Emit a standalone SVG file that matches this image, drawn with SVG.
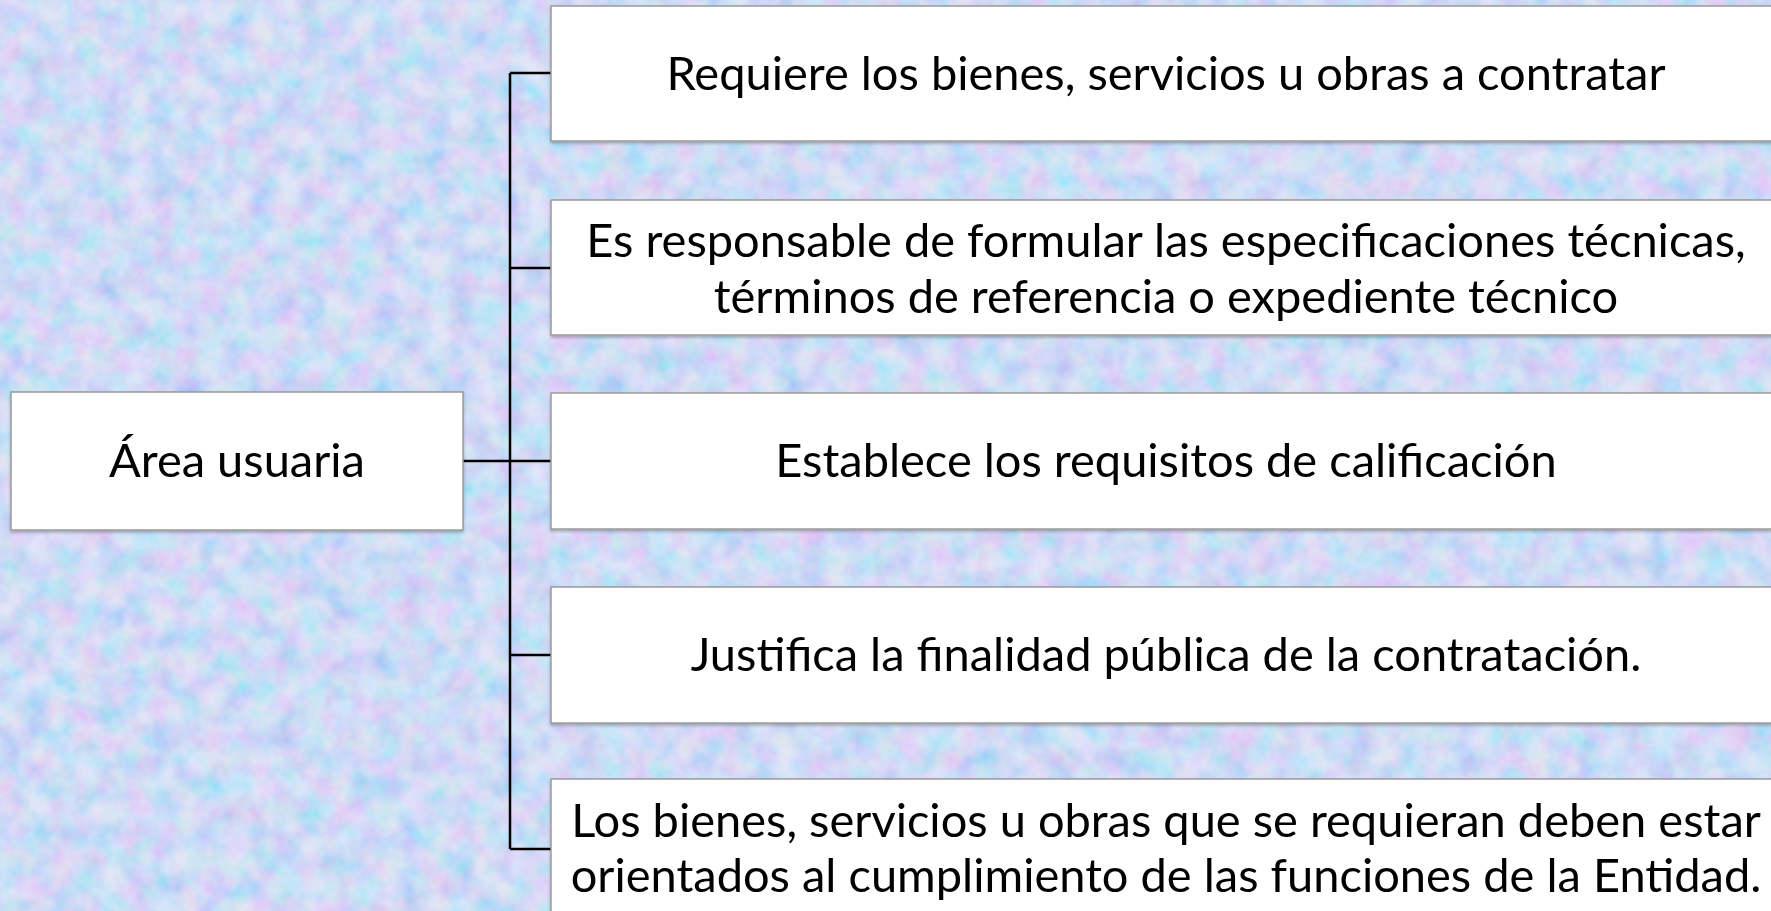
<svg xmlns="http://www.w3.org/2000/svg" width="1771" height="911" viewBox="0 0 1771 911">
<defs>
<style>
.box{fill:#ffffff;stroke:#9a9a9a;stroke-width:1.5}
.t{font-family:Lato,"Open Sans","Liberation Sans",sans-serif;font-size:47px;fill:#000;text-anchor:middle}
.c{stroke:#000;stroke-width:2.5;fill:none}
</style>
<filter id="noise" x="0" y="0" width="100%" height="100%">
<feTurbulence type="fractalNoise" baseFrequency="0.04" numOctaves="3" seed="7" result="n"/>
<feColorMatrix in="n" type="matrix" values="1.3 0 0 0 0.08  0 0.8 0 0 0.44  0 0 0.3 0 0.8  0 0 0 0 0.55"/>
</filter>
<filter id="sh" x="-5%" y="-5%" width="110%" height="120%">
<feDropShadow dx="0" dy="2" stdDeviation="1.5" flood-color="#000" flood-opacity="0.25"/>
</filter>
</defs>
<rect x="0" y="0" width="1771" height="911" fill="#bcc6f1"/>
<rect x="0" y="0" width="1771" height="911" filter="url(#noise)"/>
<g id="connectors">
<path class="c" d="M463 461 H551"/>
<path class="c" d="M510 73 V849"/>
<path class="c" d="M510 73 H551 M510 268 H551 M510 655 H551 M510 849 H551"/>
</g>
<g id="n0" filter="url(#sh)">
<rect class="box" x="11" y="392" width="452" height="138"/>
<text class="t" x="237" y="477">Área usuaria</text>
</g>
<g id="n1" filter="url(#sh)">
<rect class="box" x="551" y="6" width="1232" height="135"/>
<text class="t" x="1166" y="90">Requiere los bienes, servicios u obras a contratar</text>
</g>
<g id="n2" filter="url(#sh)">
<rect class="box" x="551" y="200" width="1232" height="135"/>
<text class="t" x="1166" y="257">Es responsable de formular las especificaciones técnicas,</text>
<text class="t" x="1166" y="313">términos de referencia o expediente técnico</text>
</g>
<g id="n3" filter="url(#sh)">
<rect class="box" x="551" y="393" width="1232" height="136"/>
<text class="t" x="1166" y="477">Establece los requisitos de calificación</text>
</g>
<g id="n4" filter="url(#sh)">
<rect class="box" x="551" y="587" width="1232" height="136"/>
<text class="t" x="1166" y="671">Justifica la finalidad pública de la contratación.</text>
</g>
<g id="n5" filter="url(#sh)">
<rect class="box" x="551" y="779" width="1232" height="150"/>
<text class="t" x="1166" y="837">Los bienes, servicios u obras que se requieran deben estar</text>
<text class="t" x="1166" y="892">orientados al cumplimiento de las funciones de la Entidad.</text>
</g>
</svg>
